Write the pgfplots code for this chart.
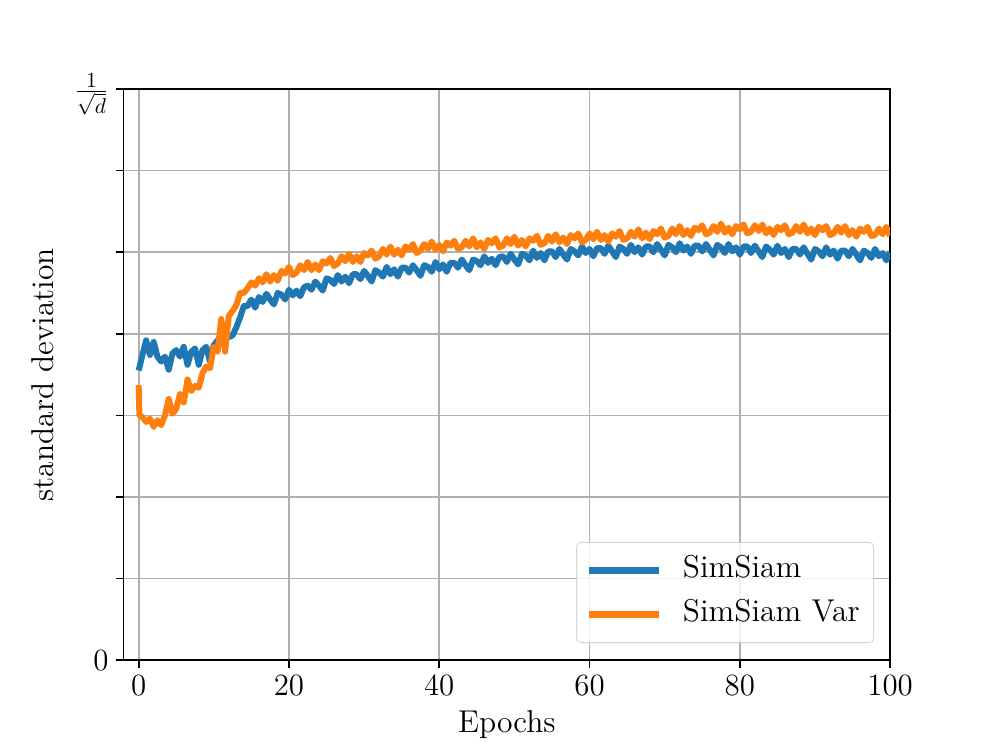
\documentclass[border=0pt]{standalone}
\usepackage{pgfplots}
\pgfplotsset{compat=1.18}
\definecolor{mplblue}{HTML}{1F77B4}
\definecolor{mplorange}{HTML}{FF7F0E}
\definecolor{mplgrid}{HTML}{B0B0B0}
\definecolor{legframe}{HTML}{CCCCCC}
\newcommand{\fs}{\fontsize{14.7}{17}\selectfont}
\begin{document}
\begin{tikzpicture}
\path[use as bounding box] (-57.6pt,-38.016pt) rectangle (403.2pt,307.584pt);
\begin{axis}[
  at={(0,0)}, anchor=south west,
  scale only axis,
  width=357.12pt, height=266.112pt,
  xmin=-2, xmax=100, ymin=0, ymax=7,
  xtick={0,20,40,60,80,100},
  ytick={0,1,2,3,4,5,6},
  yticklabels={$0$,,,,,,},
  extra y ticks={7},
  extra y tick labels={$\frac{1}{\sqrt{d}}$},
  extra y tick style={grid=none, yticklabel style={yshift=-2.5pt}},
  tick align=outside, tick pos=left,
  major tick length=3.5pt,
  every tick/.style={black, line width=0.8pt},
  axis line style={black, line width=0.8pt},
  grid=major,
  major grid style={color=mplgrid, line width=0.8pt},
  tick label style={font=\fs},
  label style={font=\fs},
  xlabel={Epochs}, ylabel={standard deviation},
  xlabel style={at={(axis description cs:0.5,-0.112)}, anchor=center},
  ylabel style={at={(axis description cs:-0.106,0.5)}, anchor=center},
  legend cell align=left,
  legend style={at={(0.979,0.030)}, anchor=south east, font=\fs,
    draw=legframe, rounded corners=2pt, fill=white,
    fill opacity=0.8, draw opacity=0.8, text opacity=1,
    inner xsep=4.5pt, inner ysep=4pt, row sep=2pt,
    nodes={text depth=4pt}},
  legend image code/.code={\draw[#1, line width=3pt, draw opacity=1] (0pt,0pt) -- (32.6pt,0pt);
    \path[draw=none, fill=none] (41.5pt,0pt);},
]
\addplot[color=mplblue, line width=2.8pt, line join=round] coordinates {
(0,3.55)(0.5,3.74)(1,3.92)(1.5,3.74)(2,3.9)(2.5,3.72)(3,3.66)(3.5,3.72)(4,3.56)(4.5,3.76)
(5,3.8)(5.5,3.72)(6,3.84)(6.5,3.62)(7,3.78)(7.5,3.82)(8,3.62)(8.5,3.8)(9,3.84)(9.5,3.66)
(10,3.86)(10.5,3.92)(11,3.88)(11.5,3.94)(12,3.96)(12.5,3.98)(13,4.08)(13.5,4.2)(14,4.34)(14.5,4.34)
(15,4.42)(15.5,4.32)(16,4.45)(16.5,4.39)(17,4.49)(17.5,4.42)(18,4.36)(18.5,4.50)(19,4.48)(19.5,4.42)
(20,4.54)(20.5,4.47)(21,4.53)(21.5,4.46)(22,4.57)(22.5,4.59)(23,4.54)(23.5,4.64)(24,4.59)(24.5,4.53)
(25,4.68)(25.5,4.66)(26,4.61)(26.5,4.72)(27,4.64)(27.5,4.70)(28,4.62)(28.5,4.73)(29,4.73)(29.5,4.67)
(30,4.77)(30.5,4.71)(31,4.64)(31.5,4.78)(32,4.75)(32.5,4.70)(33,4.82)(33.5,4.73)(34,4.79)(34.5,4.70)
(35,4.81)(35.5,4.81)(36,4.75)(36.5,4.84)(37,4.78)(37.5,4.71)(38,4.84)(38.5,4.82)(39,4.76)(39.5,4.88)
(40,4.79)(40.5,4.85)(41,4.76)(41.5,4.87)(42,4.87)(42.5,4.81)(43,4.91)(43.5,4.84)(44,4.78)(44.5,4.91)
(45,4.89)(45.5,4.84)(46,4.95)(46.5,4.87)(47,4.92)(47.5,4.84)(48,4.94)(48.5,4.95)(49,4.88)(49.5,4.98)
(50,4.91)(50.5,4.85)(51,4.98)(51.5,4.96)(52,4.90)(52.5,5.02)(53,4.93)(53.5,4.99)(54,4.90)(54.5,5.01)
(55,5.01)(55.5,4.94)(56,5.04)(56.5,4.97)(57,4.91)(57.5,5.04)(58,5.01)(58.5,4.96)(59,5.07)(59.5,4.99)
(60,5.04)(60.5,4.95)(61,5.05)(61.5,5.05)(62,4.98)(62.5,5.08)(63,5.01)(63.5,4.94)(64,5.07)(64.5,5.04)
(65,4.98)(65.5,5.09)(66,5.00)(66.5,5.06)(67,4.97)(67.5,5.07)(68,5.07)(68.5,5.00)(69,5.10)(69.5,5.03)
(70,4.96)(70.5,5.09)(71,5.06)(71.5,5.00)(72,5.11)(72.5,5.02)(73,5.07)(73.5,4.98)(74,5.08)(74.5,5.08)
(75,5.01)(75.5,5.10)(76,5.03)(76.5,4.96)(77,5.09)(77.5,5.06)(78,4.99)(78.5,5.10)(79,5.01)(79.5,5.06)
(80,4.97)(80.5,5.07)(81,5.07)(81.5,4.99)(82,5.08)(82.5,5.01)(83,4.94)(83.5,5.07)(84,5.03)(84.5,4.97)
(85,5.08)(85.5,4.99)(86,5.04)(86.5,4.94)(87,5.04)(87.5,5.04)(88,4.97)(88.5,5.06)(89,4.98)(89.5,4.91)
(90,5.04)(90.5,5.01)(91,4.95)(91.5,5.06)(92,4.97)(92.5,5.02)(93,4.92)(93.5,5.02)(94,5.02)(94.5,4.95)
(95,5.04)(95.5,4.97)(96,4.90)(96.5,5.02)(97,4.99)(97.5,4.93)(98,5.04)(98.5,4.95)(99,4.99)(99.5,4.90)
(100,5.00)
};
\addlegendentry{SimSiam}
\addplot[color=mplorange, line width=2.8pt, line join=round] coordinates {
(0,3.37)(0.1,3.0)(0.5,2.98)(1,2.92)(1.5,2.96)(2,2.86)(2.5,2.94)(3,2.88)(3.5,3.0)(4,3.2)(4.5,3.02)
(5,3.08)(5.5,3.26)(6,3.16)(6.5,3.44)(7,3.3)(7.5,3.36)(8,3.34)(8.5,3.52)(9,3.6)(9.5,3.58)
(10,3.84)(10.5,3.78)(11,4.18)(11.5,3.78)(12,4.22)(12.5,4.28)(13,4.35)(13.5,4.50)(14,4.50)(14.5,4.56)
(15,4.63)(15.5,4.59)(16,4.68)(16.5,4.63)(17,4.73)(17.5,4.64)(18,4.72)(18.5,4.65)(19,4.77)(19.5,4.74)
(20,4.82)(20.5,4.72)(21,4.75)(21.5,4.84)(22,4.78)(22.5,4.88)(23,4.78)(23.5,4.85)(24,4.78)(24.5,4.89)
(25,4.86)(25.5,4.93)(26,4.83)(26.5,4.86)(27,4.95)(27.5,4.89)(28,4.98)(28.5,4.88)(29,4.95)(29.5,4.88)
(30,4.99)(30.5,4.96)(31,5.02)(31.5,4.92)(32,4.95)(32.5,5.04)(33,4.97)(33.5,5.07)(34,4.97)(34.5,5.03)
(35,4.96)(35.5,5.07)(36,5.03)(36.5,5.10)(37,4.99)(37.5,5.02)(38,5.10)(38.5,5.04)(39,5.13)(39.5,5.03)
(40,5.09)(40.5,5.01)(41,5.12)(41.5,5.08)(42,5.14)(42.5,5.04)(43,5.06)(43.5,5.14)(44,5.07)(44.5,5.17)
(45,5.06)(45.5,5.12)(46,5.04)(46.5,5.15)(47,5.11)(47.5,5.17)(48,5.06)(48.5,5.08)(49,5.17)(49.5,5.10)
(50,5.19)(50.5,5.08)(51,5.15)(51.5,5.07)(52,5.17)(52.5,5.14)(53,5.20)(53.5,5.09)(54,5.11)(54.5,5.20)
(55,5.13)(55.5,5.22)(56,5.12)(56.5,5.18)(57,5.10)(57.5,5.21)(58,5.17)(58.5,5.23)(59,5.12)(59.5,5.15)
(60,5.23)(60.5,5.16)(61,5.25)(61.5,5.15)(62,5.21)(62.5,5.13)(63,5.23)(63.5,5.19)(64,5.26)(64.5,5.15)
(65,5.17)(65.5,5.25)(66,5.19)(66.5,5.28)(67,5.17)(67.5,5.24)(68,5.16)(68.5,5.26)(69,5.22)(69.5,5.29)
(70,5.18)(70.5,5.20)(71,5.29)(71.5,5.22)(72,5.32)(72.5,5.21)(73,5.27)(73.5,5.20)(74,5.30)(74.5,5.27)
(75,5.33)(75.5,5.22)(76,5.24)(76.5,5.32)(77,5.25)(77.5,5.35)(78,5.24)(78.5,5.30)(79,5.22)(79.5,5.32)
(80,5.28)(80.5,5.34)(81,5.23)(81.5,5.25)(82,5.33)(82.5,5.26)(83,5.34)(83.5,5.23)(84,5.29)(84.5,5.21)
(85,5.31)(85.5,5.27)(86,5.33)(86.5,5.22)(87,5.24)(87.5,5.32)(88,5.25)(88.5,5.34)(89,5.23)(89.5,5.29)
(90,5.21)(90.5,5.31)(91,5.27)(91.5,5.32)(92,5.21)(92.5,5.23)(93,5.31)(93.5,5.24)(94,5.32)(94.5,5.21)
(95,5.27)(95.5,5.19)(96,5.29)(96.5,5.25)(97,5.31)(97.5,5.20)(98,5.21)(98.5,5.29)(99,5.22)(99.5,5.31)
(100,5.20)
};
\addlegendentry{SimSiam Var}
\end{axis}
\end{tikzpicture}
\end{document}
